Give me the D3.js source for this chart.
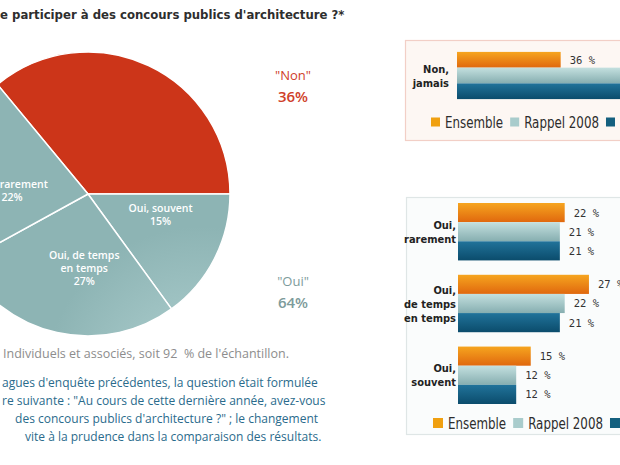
<!DOCTYPE html>
<html><head><meta charset="utf-8">
<script src="https://cdn.jsdelivr.net/npm/d3@7"></script>
<style>body{margin:0;background:#fff;overflow:hidden} svg{display:block}</style>
</head><body>
<script>
// ---------- DATA ----------
const titleText = "e participer à des concours publics d'architecture ?*";
const pieCategories = ["Non, jamais", "Oui, souvent", "Oui, de temps en temps", "Oui, rarement"];
const pieValues = [36, 15, 27, 22];
const pieLabelLines = [[], ["Oui, souvent", "15%"], ["Oui, de temps", "en temps", "27%"], ["Oui, rarement", "22%"]];
const summaryLabels = ["\"Non\"", "\"Oui\""];
const summaryValues = [36, 64];

const seriesNames = ["Ensemble", "Rappel 2008", "Rappel 2006"];
const topCategories = ["Non,\njamais"];
const topEnsemble = [36];
const topRappel2008 = [63];
const topRappel3 = [64];
const lowCategories = ["Oui,\nrarement", "Oui,\nde temps\nen temps", "Oui,\nsouvent"];
const lowEnsemble = [22, 27, 15];
const lowRappel2008 = [21, 22, 12];
const lowRappel3 = [21, 21, 12];

const footnoteGray = "Individuels et associés, soit 92  % de l'échantillon.";
const footnoteBlue = [
  "agues d'enquête précédentes, la question était formulée",
  "re suivante : \"Au cours de cette dernière année, avez-vous",
  " des concours publics d'architecture ?\" ; le changement",
  "vite à la prudence dans la comparaison des résultats."
];

// ---------- DRAW ----------
const W = 620, H = 465;
const svg = d3.select("body").append("svg").attr("width", W).attr("height", H);
const defs = svg.append("defs");

const SANS = "'Open Sans', 'DejaVu Sans', sans-serif";
const COND = "'DejaVu Sans Condensed', 'DejaVu Sans', sans-serif";

// title
svg.append("text").attr("x", 0).attr("y", 19)
  .attr("font-family", COND).attr("font-weight", "bold").attr("font-size", 13)
  .attr("fill", "#2e2e2e").text(titleText);

// ---- pie ----
const cx = 88, cy = 194, R = 142;
function radial(id, c0, c1) {
  const g = defs.append("radialGradient").attr("id", id)
    .attr("gradientUnits", "userSpaceOnUse").attr("cx", cx + 25).attr("cy", cy - 5).attr("r", R * 1.1);
  g.append("stop").attr("offset", "0%").attr("stop-color", c0);
  g.append("stop").attr("offset", "100%").attr("stop-color", c1);
}
radial("gRed", "#e8491f", "#cc3519");
radial("gTeal", "#b2d2d2", "#8db4b4");

const total = d3.sum(pieValues);
const start = Math.PI / 2 - 2 * Math.PI * pieValues[0] / total;
const pie = d3.pie().sort(null).value(d => d).startAngle(start).endAngle(start + 2 * Math.PI);
const arcs = pie(pieValues);
const arc = d3.arc().innerRadius(0).outerRadius(R);
const labelR = 76, labelTurn = -0.17;
const pg = svg.append("g").attr("transform", `translate(${cx},${cy})`);
pg.selectAll("path").data(arcs).join("path")
  .attr("d", arc)
  .attr("fill", (d, i) => i === 0 ? "url(#gRed)" : "url(#gTeal)")
  .attr("stroke", "#fff").attr("stroke-width", 1.5).attr("stroke-linejoin", "round");

arcs.forEach((d, i) => {
  const lines = pieLabelLines[i];
  if (!lines.length) return;
  const a = (d.startAngle + d.endAngle) / 2 + labelTurn;
  const lx = Math.sin(a) * labelR, ly = -Math.cos(a) * labelR;
  const lh = 13;
  const y0 = ly - (lines.length - 1) * lh / 2;
  const t = pg.append("text").attr("text-anchor", "middle")
    .attr("font-family", SANS).attr("font-size", 10.5).attr("font-weight", 600)
    .attr("fill", "#ffffff");
  lines.forEach((s, k) => t.append("tspan").attr("x", lx).attr("y", y0 + k * lh + 2).text(s));
});

// summary labels
const sumColors = ["#cf4029", "#7d9b9b"];
const sumY = [75, 281];
summaryLabels.forEach((s, i) => {
  svg.append("text").attr("x", 293).attr("y", sumY[i] + 5).attr("text-anchor", "middle")
    .attr("font-family", SANS).attr("font-size", 13).attr("fill", sumColors[i]).text(s);
  svg.append("text").attr("x", 293).attr("y", sumY[i] + 27).attr("text-anchor", "middle")
    .attr("font-family", SANS).attr("font-size", 15).attr("font-weight", 600).attr("fill", sumColors[i])
    .text(summaryValues[i] + "%");
});

// footnotes
svg.append("text").attr("x", 3).attr("y", 358).attr("xml:space", "preserve")
  .attr("font-family", SANS).attr("font-size", 12.5).attr("fill", "#8d8d8d").text(footnoteGray);
const fx = [2, 2, 12, 25];
footnoteBlue.forEach((s, i) => {
  svg.append("text").attr("x", fx[i]).attr("y", 387 + i * 18).attr("xml:space", "preserve")
    .attr("font-family", SANS).attr("font-size", 12).attr("fill", "#2a6b8c").text(s);
});

// ---- bar panels ----
const barColors = [["#f6a51f", "#e0680e"], ["#c4e0df", "#86aeb0"], ["#21739a", "#0b4c6c"]];
barColors.forEach((c, i) => {
  const g = defs.append("linearGradient").attr("id", "gb" + i).attr("x1", 0).attr("y1", 0).attr("x2", 0).attr("y2", 1);
  g.append("stop").attr("offset", "0%").attr("stop-color", c[0]);
  g.append("stop").attr("offset", "100%").attr("stop-color", c[1]);
});
const legendColors = ["#f0a010", "#a9cccc", "#14607f"];

function panel(opts) {
  const { box, cats, series, x0, pxPerPct, yRange, labelRight, legendX, legendY, sq, boxFill, boxStroke } = opts;
  svg.append("rect").attr("x", box[0] + 0.5).attr("y", box[1] + 0.5).attr("width", box[2]).attr("height", box[3])
    .attr("fill", boxFill).attr("stroke", boxStroke).attr("stroke-width", 1.2);
  const x = d3.scaleLinear().domain([0, 100]).range([x0, x0 + 100 * pxPerPct]);
  const y = d3.scaleBand().domain(cats).range(yRange).paddingInner(0.2).paddingOuter(0);
  const ys = d3.scaleBand().domain(seriesNames).range([0, y.bandwidth()]);
  cats.forEach((c, ci) => {
    const g = svg.append("g").attr("transform", `translate(0,${y(c)})`);
    series.forEach((vals, si) => {
      const v = vals[ci];
      g.append("rect").attr("x", x(0)).attr("y", ys(seriesNames[si]))
        .attr("width", x(v) - x(0)).attr("height", ys.bandwidth())
        .attr("fill", `url(#gb${si})`);
      if (x(v) + 9 < W - 20) {
        g.append("text").attr("x", x(v) + 9).attr("y", ys(seriesNames[si]) + ys.bandwidth() / 2 + 4)
          .attr("font-family", "'DejaVu Sans Mono', monospace").attr("font-size", 10.5)
          .attr("fill", "#333").text(v + " %");
      }
    });
    const lines = c.split("\n");
    const lh = 14;
    const cyy = y(c) + y.bandwidth() / 2;
    const t = svg.append("text").attr("text-anchor", "end")
      .attr("font-family", COND).attr("font-weight", "bold").attr("font-size", 11).attr("fill", "#222");
    lines.forEach((s, k) => t.append("tspan").attr("x", labelRight)
      .attr("y", cyy - (lines.length - 1) * lh / 2 + k * lh + 4).text(s));
  });
  // legend
  let lx = legendX;
  seriesNames.forEach((s, i) => {
    svg.append("rect").attr("x", lx).attr("y", legendY - sq / 2).attr("width", sq).attr("height", sq).attr("fill", legendColors[i]);
    const tx = lx + sq + 5;
    if (tx < W - 15) {
      const t = svg.append("text").attr("transform", `translate(${tx},${legendY + 5.5}) scale(0.88,1)`)
        .attr("font-family", COND).attr("font-size", 15).attr("fill", "#2c2c2c").text(s);
      lx = tx + t.node().getComputedTextLength() * 0.88 + 7;
    }
  });
}

panel({
  box: [405, 40, 240, 100], cats: topCategories,
  series: [topEnsemble, topRappel2008, topRappel3],
  x0: 457, pxPerPct: 2.88, yRange: [46, 105], labelRight: 449,
  legendX: 431, legendY: 122, sq: 9, boxFill: "#fdf7f3", boxStroke: "#f2cfc6"
});
panel({
  box: [406, 197, 240, 237], cats: lowCategories,
  series: [lowEnsemble, lowRappel2008, lowRappel3],
  x0: 458, pxPerPct: 4.85, yRange: [203, 404], labelRight: 456,
  legendX: 433, legendY: 423, sq: 10, boxFill: "#fafcfc", boxStroke: "#dfe6e6"
});
</script>
</body></html>
